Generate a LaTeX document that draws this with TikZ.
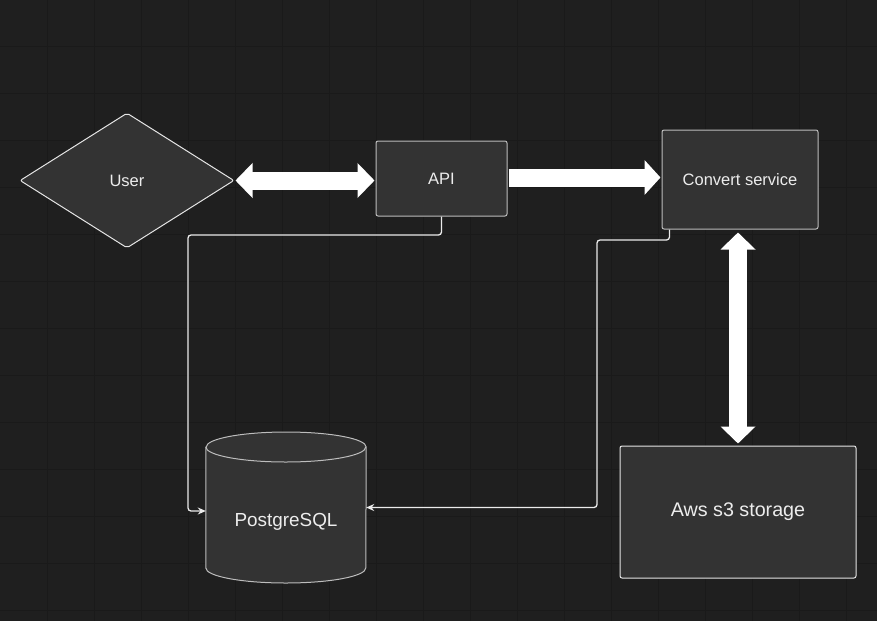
\documentclass[tikz,border=0pt]{standalone}
\usepackage{fontspec}
\setmainfont{Liberation Sans}
\usetikzlibrary{shapes.geometric,arrows.meta,backgrounds}
\definecolor{bg}{HTML}{1F1F1F}
\definecolor{gridc}{HTML}{1A1A1A}
\definecolor{boxfill}{HTML}{333333}
\definecolor{boxline}{HTML}{BDBDBD}
\definecolor{txt}{HTML}{EDEDED}
\tikzset{
  box/.style={draw=boxline, fill=boxfill, line width=1pt, rounded corners=2pt, inner sep=0pt, text=txt, font=\fontsize{16.5}{19}\selectfont},
  conn/.style={draw=white!92!black, line width=1.3pt, rounded corners=3pt, -{Stealth[length=8pt,width=7pt]}},
  fatarrow/.style={draw=white, line width=18pt, -{Triangle[length=16pt,width=34pt]}},
  fatboth/.style={draw=white, line width=18pt, {Triangle[length=17pt,width=34pt]}-{Triangle[length=17pt,width=34pt]}},
}
\begin{document}
\begin{tikzpicture}[x=1pt,y=-1pt]
\useasboundingbox (0,0) rectangle (877,621);

% nodes
\node[diamond, draw=white!90!black, fill=boxfill, line width=1pt, rounded corners=2pt, minimum width=214pt, minimum height=135pt, inner sep=0pt, text=txt, font=\fontsize{16.5}{19}\selectfont] (user) at (127,180.5) {User};
\node[box, minimum width=131pt, minimum height=75pt] (api) at (441.5,178.5) {API};
\node[box, minimum width=156pt, minimum height=99pt] (conv) at (740,179.5) {Convert service};
\node[box, draw=white!90!black, minimum width=236pt, minimum height=132pt, font=\fontsize{19.7}{23}\selectfont] (s3) at (738,512) {Aws s3 storage};
\node[minimum width=160pt, minimum height=151pt, inner sep=0pt, text=txt, font=\fontsize{18.9}{22}\selectfont, text height=38pt, text depth=0pt] (pg) at (286,507.5) {PostgreSQL};

\begin{scope}[on background layer]
\fill[bg] (0,0) rectangle (877,621);
\foreach \i in {1,...,18} {\draw[gridc, line width=0.8pt] (47*\i,0) -- (47*\i,621);}
\foreach \j in {1,...,13} {\draw[gridc, line width=0.8pt] (0,47*\j-1) -- (877,47*\j-1);}
% cylinder
\draw[draw=boxline, fill=boxfill, line width=1pt]
  (pg.west |- 0,447) -- (pg.west |- 0,568) arc[start angle=180, end angle=360, x radius=80pt, y radius=15pt]
  -- (pg.east |- 0,447) arc[start angle=0, end angle=180, x radius=80pt, y radius=15pt] -- cycle;
\draw[draw=boxline, line width=1pt] (pg.west |- 0,447) arc[start angle=180, end angle=360, x radius=80pt, y radius=15pt];
\end{scope}

% thick arrows
\draw[fatboth] ([xshift=1pt]user.east) -- ([xshift=-1pt]user.east -| api.west);
\draw[fatarrow] ([xshift=1pt,yshift=1pt]api.east) -- ([xshift=-1pt,yshift=1pt]api.east -| conv.west);
\draw[fatboth] ([yshift=-3pt]s3.north |- conv.south) -- ([yshift=2pt]s3.north);

% thin connectors
\coordinate (a1) at (188,235);
\coordinate (b1) at (597,240);
\draw[conn] (api.south) |- (a1) |- ([yshift=-3.5pt]pg.west);
\draw[conn] ([xshift=8pt]conv.south west) |- (b1) |- (pg.east);
\end{tikzpicture}
\end{document}
